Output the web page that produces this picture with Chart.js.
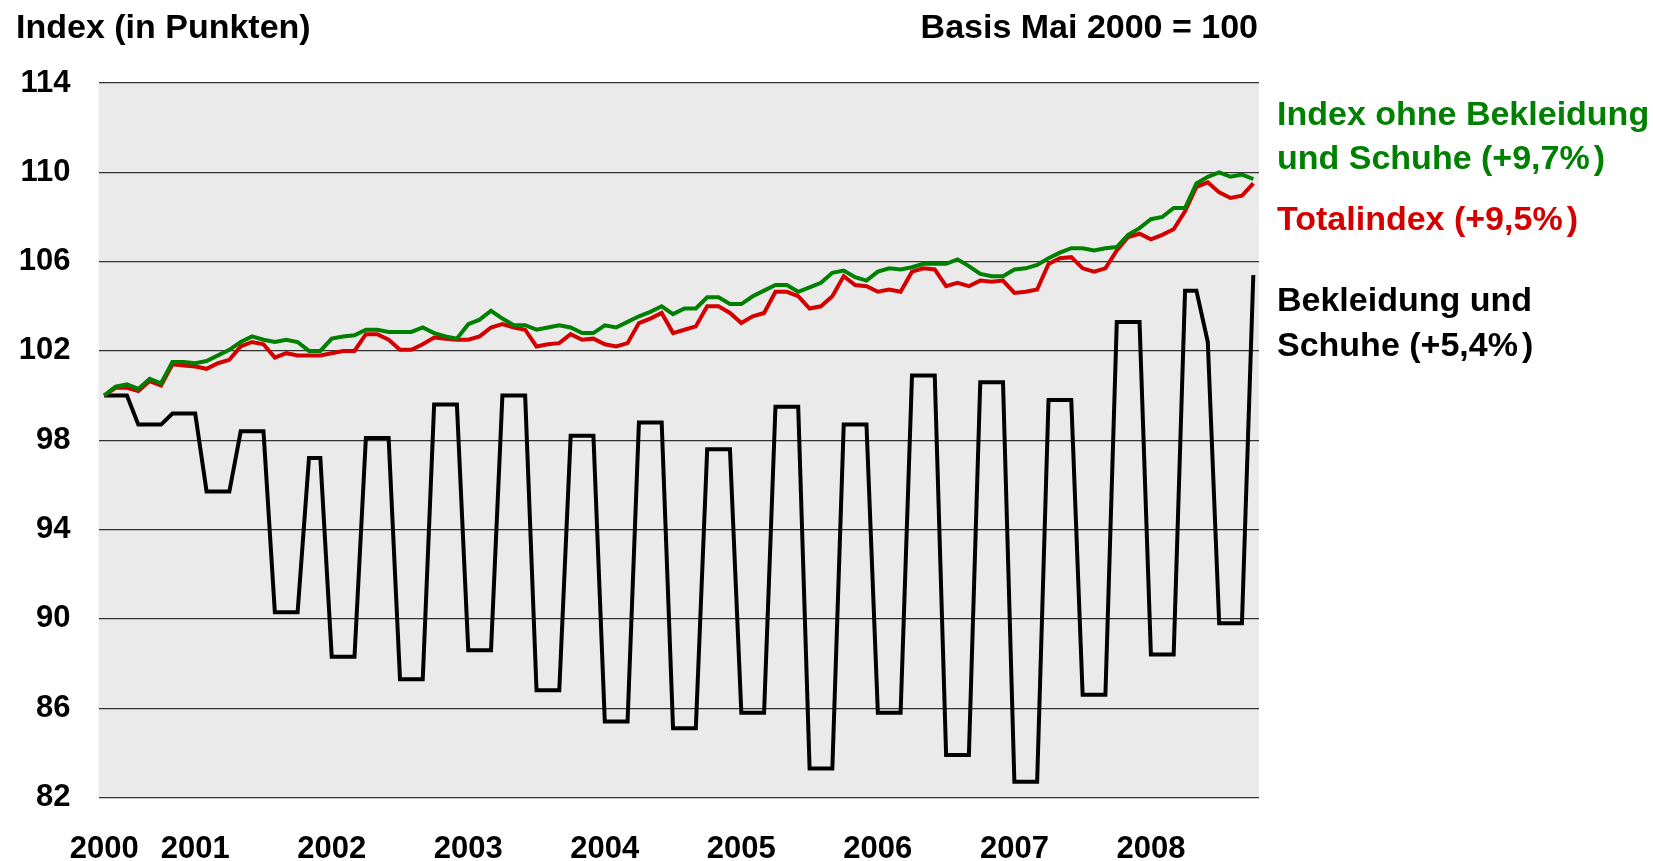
<!DOCTYPE html>
<html lang="de">
<head>
<meta charset="utf-8">
<title>Landesindex: Bekleidung und Schuhe</title>
<script src="https://cdn.jsdelivr.net/npm/chart.js@4.4.1/dist/chart.umd.min.js"></script>
<style>
  html, body { margin: 0; padding: 0; background: #fff; }
  #wrap { position: relative; width: 1653px; height: 861px; overflow: hidden; }
  #chart { position: absolute; left: 0; top: 0; }
  .txt {
    position: absolute;
    font-family: "Liberation Sans", Arial, Helvetica, sans-serif;
    font-weight: bold;
    font-size: 34px;
    line-height: 34px;
    white-space: nowrap;
    color: #000;
  }
  .green { color: #008000; }
  .red { color: #d40000; }
  .cp { margin-left: 4px; }
</style>
</head>
<body>
<div id="wrap">
  <canvas id="chart" width="1653" height="861"></canvas>
  <div class="txt" style="left:16px; top:9px;">Index (in Punkten)</div>
  <div class="txt" style="right:395px; top:9px;">Basis Mai 2000 = 100</div>
  <div class="txt green" style="left:1277px; top:96px;">Index ohne Bekleidung</div>
  <div class="txt green" style="left:1277px; top:140px;">und Schuhe (+9,7%<span class="cp">)</span></div>
  <div class="txt red" style="left:1277px; top:201px;">Totalindex (+9,5%<span class="cp">)</span></div>
  <div class="txt" style="left:1277px; top:282px;">Bekleidung und</div>
  <div class="txt" style="left:1277px; top:327px;">Schuhe (+5,4%<span class="cp">)</span></div>
</div>
<script>
// ── Data (monthly, Mai 2000 = 100) ─────────────────
const startYear = 2000;
const startMonth = 5;

// Jahres-Beschriftung: erster Monat und jeweils Januar
const tickMonths = ['05.2000', '01.2001', '01.2002', '01.2003', '01.2004', '01.2005', '01.2006', '01.2007', '01.2008'];
const tickYears  = ['2000', '2001', '2002', '2003', '2004', '2005', '2006', '2007', '2008'];

const ohneBekleidung = [
  100.0, 100.4, 100.5, 100.3, 100.75, 100.55, 101.5, 101.5, 101.45, 101.55, 101.8, 102.05,
  102.4, 102.65, 102.5, 102.4, 102.5, 102.4, 102.0, 102.0, 102.55, 102.65, 102.7, 102.95,
  102.95, 102.85, 102.85, 102.85, 103.05, 102.8, 102.65, 102.55, 103.2, 103.4, 103.8, 103.45,
  103.15, 103.15, 102.95, 103.05, 103.15, 103.05, 102.8, 102.8, 103.15, 103.05, 103.3, 103.55,
  103.75, 104.0, 103.65, 103.9, 103.9, 104.4, 104.4, 104.1, 104.1, 104.45, 104.7, 104.95,
  104.95, 104.65, 104.85, 105.05, 105.5, 105.6, 105.3, 105.15, 105.55, 105.7, 105.65, 105.75,
  105.9, 105.9, 105.9, 106.1, 105.8, 105.45, 105.35, 105.35, 105.65, 105.7, 105.85, 106.15,
  106.4, 106.6, 106.6, 106.5, 106.6, 106.65, 107.2, 107.5, 107.9, 108.0, 108.4, 108.4,
  109.5, 109.8, 110.0, 109.8, 109.9, 109.7
];

const totalIndex = [
  100.0, 100.35, 100.35, 100.2, 100.65, 100.45, 101.4, 101.35, 101.3, 101.2, 101.45, 101.6,
  102.2, 102.4, 102.3, 101.7, 101.9, 101.8, 101.8, 101.8, 101.9, 102.0, 102.0, 102.75,
  102.75, 102.5, 102.05, 102.05, 102.3, 102.6, 102.55, 102.5, 102.5, 102.65, 103.05, 103.2,
  103.05, 102.95, 102.2, 102.3, 102.35, 102.75, 102.5, 102.55, 102.3, 102.2, 102.35, 103.25,
  103.45, 103.7, 102.8, 102.95, 103.1, 104.0, 104.0, 103.7, 103.25, 103.55, 103.7, 104.65,
  104.65, 104.45, 103.9, 104.0, 104.45, 105.35, 104.95, 104.9, 104.65, 104.75, 104.65, 105.55,
  105.7, 105.65, 104.9, 105.05, 104.9, 105.15, 105.1, 105.15, 104.6, 104.65, 104.75, 105.9,
  106.15, 106.2, 105.7, 105.55, 105.7, 106.5, 107.1, 107.25, 107.0, 107.2, 107.45, 108.25,
  109.35, 109.55, 109.1, 108.85, 108.95, 109.5
];

const bekleidung = [
  100.0, 100.0, 100.0, 98.7, 98.7, 98.7, 99.2, 99.2, 99.2, 95.7, 95.7, 95.7,
  98.4, 98.4, 98.4, 90.3, 90.3, 90.3, 97.2, 97.2, 88.3, 88.3, 88.3, 98.1,
  98.1, 98.1, 87.3, 87.3, 87.3, 99.6, 99.6, 99.6, 88.6, 88.6, 88.6, 100.0,
  100.0, 100.0, 86.8, 86.8, 86.8, 98.2, 98.2, 98.2, 85.4, 85.4, 85.4, 98.8,
  98.8, 98.8, 85.1, 85.1, 85.1, 97.6, 97.6, 97.6, 85.8, 85.8, 85.8, 99.5,
  99.5, 99.5, 83.3, 83.3, 83.3, 98.7, 98.7, 98.7, 85.8, 85.8, 85.8, 100.9,
  100.9, 100.9, 83.9, 83.9, 83.9, 100.6, 100.6, 100.6, 82.7, 82.7, 82.7, 99.8,
  99.8, 99.8, 86.6, 86.6, 86.6, 103.3, 103.3, 103.3, 88.4, 88.4, 88.4, 104.7,
  104.7, 102.4, 89.8, 89.8, 89.8, 105.4
];

// Monatslabels "MM.YYYY"
const months = [];
for (let k = 0; k < bekleidung.length; k++) {
  const m = (startMonth - 1 + k) % 12 + 1;
  const y = startYear + Math.floor((startMonth - 1 + k) / 12);
  months.push(String(m).padStart(2, '0') + '.' + y);
}

const FONT = '"Liberation Sans", Arial, Helvetica, sans-serif';

// ── Plot background ────────────────────────────────
const plotBg = {
  id: 'plotBg',
  beforeDraw(chart) {
    const { ctx, chartArea: a } = chart;
    ctx.save();
    ctx.fillStyle = '#eaeaea';
    ctx.fillRect(a.left, a.top, a.right - a.left, a.bottom - a.top);
    ctx.restore();
  }
};

// ── Chart ──────────────────────────────────────────
new Chart(document.getElementById('chart'), {
  type: 'line',
  data: {
    labels: months,
    datasets: [
      { label: 'Index ohne Bekleidung und Schuhe', data: ohneBekleidung, borderColor: '#008000', order: 0 },
      { label: 'Totalindex', data: totalIndex, borderColor: '#d40000', order: 1 },
      { label: 'Bekleidung und Schuhe', data: bekleidung, borderColor: '#000000', order: 2 },
    ],
  },
  options: {
    responsive: false,
    animation: false,
    devicePixelRatio: 1,
    layout: { padding: { left: 0, top: 83, right: 394, bottom: 0 } },
    elements: {
      line: { borderWidth: 4, tension: 0, fill: false, borderJoinStyle: 'miter' },
      point: { radius: 0, hoverRadius: 0 },
    },
    plugins: {
      legend: { display: false },
      tooltip: { enabled: false },
    },
    scales: {
      x: {
        type: 'category',
        offset: true,
        grid: { display: false, drawTicks: false },
        border: { display: false },
        ticks: {
          autoSkip: false,
          maxRotation: 0,
          minRotation: 0,
          padding: 33,
          color: '#000',
          font: { family: FONT, size: 31, weight: 'bold' },
          callback: function (value, index) {
            const pos = tickMonths.indexOf(months[index]);
            return pos >= 0 ? tickYears[pos] : '';
          },
        },
        afterFit: (scale) => { scale.height = 63.5; },
      },
      y: {
        min: 82,
        max: 114,
        grid: { color: '#333333', lineWidth: 1.3, drawTicks: false },
        border: { display: false },
        ticks: {
          stepSize: 4,
          padding: 28,
          color: '#000',
          font: { family: FONT, size: 31, weight: 'bold' },
        },
        afterFit: (scale) => { scale.width = 98.5; },
      },
    },
  },
  plugins: [plotBg],
});
</script>
</body>
</html>
